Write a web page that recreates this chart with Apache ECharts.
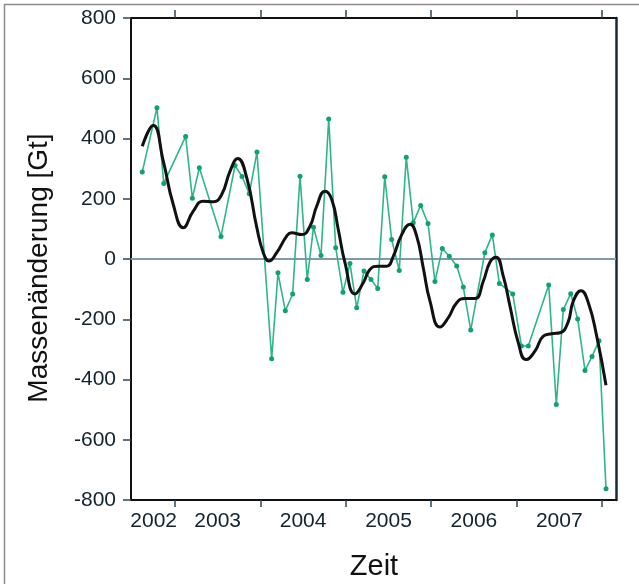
<!DOCTYPE html>
<html>
<head>
<meta charset="utf-8">
<script src="https://cdn.jsdelivr.net/npm/echarts@6/dist/echarts.min.js"></script>
<style>
html,body{margin:0;padding:0;background:#fff;}
#c{width:639px;height:584px;}
</style>
</head>
<body>
<div id="c"></div>
<script>
// Monthly mass change (green)
var monthYears = [2002.617,2002.789,2002.869,2003.125,2003.203,2003.285,2003.539,2003.703,2003.785,2003.870,2003.960,
  2004.132,2004.206,2004.292,2004.378,2004.464,2004.549,2004.622,2004.710,2004.800,2004.882,2004.967,
  2005.049,2005.128,2005.213,2005.295,2005.374,2005.456,2005.537,2005.626,2005.708,2005.790,2005.877,2005.963,
  2006.044,2006.130,2006.212,2006.299,2006.376,2006.463,2006.628,2006.716,2006.798,2006.955,
  2007.057,2007.137,2007.376,2007.465,2007.547,2007.634,2007.715,2007.801,2007.883,2007.965,2008.047];
var monthValues = [289,502,251,407,202,303,75,310,274,217,355,
  -331,-46,-172,-116,275,-68,105,12,465,37,-110,
  -15,-162,-40,-68,-98,273,65,-38,338,120,178,118,
  -75,35,9,-23,-93,-236,21,80,-81,-116,
  -289,-289,-86,-483,-168,-115,-199,-370,-324,-271,-763];

// Smoothed curve (black)
var smoothYears = [2002.617,2002.746,2002.863,2002.980,2003.097,2003.214,2003.331,2003.448,2003.547,2003.644,2003.734,2003.840,2003.957,
  2004.034,2004.101,2004.191,2004.308,2004.366,2004.484,2004.581,2004.659,2004.756,2004.835,2004.912,2004.991,
  2005.108,2005.205,2005.283,2005.381,2005.479,2005.556,2005.655,2005.752,2005.830,2005.907,2005.986,
  2006.103,2006.200,2006.299,2006.396,2006.513,2006.610,2006.689,2006.759,2006.844,2006.923,
  2007.020,2007.110,2007.215,2007.313,2007.411,2007.508,2007.600,2007.664,2007.754,2007.840,2007.938,2008.047];
var smoothValues = [374,443,325,181,104,159,192,190,214,291,334,270,106,
  21,-7,21,76,87,81,109,175,225,198,98,-13,
  -116,-79,-35,-24,-24,9,81,115,76,-29,-140,
  -226,-195,-145,-131,-131,-74,-10,6,-57,-157,
  -278,-334,-306,-256,-248,-245,-212,-140,-105,-145,-256,-419];

// Axis tick labels
var yearLabels = ['2002','2003','2004','2005','2006','2007'];
var yearLabelAt = [2002.75,2003.5,2004.5,2005.5,2006.5,2007.5];
var yearBounds = [2003,2004,2005,2006,2007,2008];

var xMin = 2002.485, xMax = 2008.164;
var FONT = 'Liberation Sans, Arial, sans-serif';
var TXT = '#13222b';

function pairs(xs, ys){ return xs.map(function(x,i){ return [x, ys[i]]; }); }

var chart = echarts.init(document.getElementById('c'), null, {renderer:'canvas'});
chart.setOption({
  animation:false,
  backgroundColor:'#ffffff',
  graphic:[{
    type:'rect', shape:{x:4.5,y:4.5,width:1000,height:1000},
    style:{fill:'none', stroke:'#8c8c8c', lineWidth:1.5}, z:0
  },{
    type:'text', x:39, y:268, rotation:Math.PI/2,
    style:{text:'Massenänderung [Gt]', align:'center', verticalAlign:'middle',
      fontFamily:FONT, fontSize:28, fill:'#111'}
  },{
    type:'text', x:374, y:567,
    style:{text:'Zeit', align:'center', verticalAlign:'middle',
      fontFamily:FONT, fontSize:29, fill:'#111'}
  }],
  grid:{left:131, top:18, width:485, height:482, containLabel:false, outerBoundsMode:'none'},
  xAxis:[{
    type:'value', min:xMin, max:xMax, position:'bottom',
    axisLine:{onZero:false, lineStyle:{color:'#111', width:2}},
    axisTick:{show:true, length:7, customValues:yearBounds, lineStyle:{color:'#2c4654', width:1.5}},
    axisLabel:{customValues:yearLabelAt, margin:11, fontFamily:FONT, fontSize:21, color:TXT,
      formatter:function(v){ var i = yearLabelAt.indexOf(v); return i>=0 ? yearLabels[i] : ''; }},
    splitLine:{show:false}
  },{
    type:'value', min:xMin, max:xMax, position:'top',
    axisLine:{onZero:false, lineStyle:{color:'#111', width:2}},
    axisTick:{show:true, length:8, customValues:yearBounds, lineStyle:{color:'#2c4654', width:1.5}},
    axisLabel:{show:false},
    splitLine:{show:false}
  }],
  yAxis:[{
    type:'value', min:-800, max:800, interval:200, position:'left',
    axisLine:{show:true, onZero:false, lineStyle:{color:'#111', width:2}},
    axisTick:{show:true, length:8, lineStyle:{color:'#2c4654', width:1.5}},
    axisLabel:{margin:15, fontFamily:FONT, fontSize:21, color:TXT},
    splitLine:{show:false}
  },{
    type:'value', min:-800, max:800, position:'right',
    axisLine:{show:true, onZero:false, lineStyle:{color:'#1a2a33', width:2.5}},
    axisTick:{show:false}, axisLabel:{show:false}, splitLine:{show:false}
  }],
  series:[{
    type:'line', xAxisIndex:0, yAxisIndex:0,
    data:pairs(monthYears, monthValues),
    symbol:'circle', symbolSize:5,
    lineStyle:{color:'#2fb58c', width:1.6},
    itemStyle:{color:'#12a06c'},
    z:3,
    markLine:{
      silent:true, symbol:'none', label:{show:false},
      lineStyle:{color:'#7f9aab', width:1.8, type:'solid'},
      data:[{yAxis:0}], z:1
    }
  },{
    type:'line', xAxisIndex:0, yAxisIndex:0,
    data:pairs(smoothYears, smoothValues),
    symbol:'none', smooth:0.5,
    lineStyle:{color:'#111111', width:3},
    z:4
  }]
});
</script>
</body>
</html>
